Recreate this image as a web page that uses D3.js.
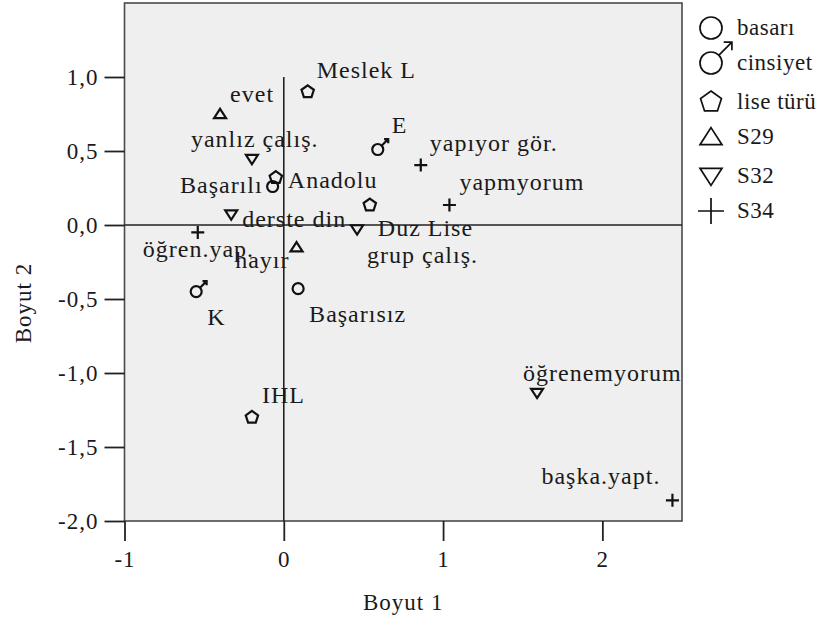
<!DOCTYPE html>
<html>
<head>
<meta charset="utf-8">
<script src="https://cdn.jsdelivr.net/npm/d3@7"></script>
<style>
  body { margin: 0; background: #fff; }
  text { font-family: "Liberation Serif", "Times New Roman", serif; fill: #1a1a1a; }
</style>
</head>
<body>
<svg id="chart" width="825" height="620"></svg>
<script>
// legend / series
const seriesNames = ['basarı', 'cinsiyet', 'lise türü', 'S29', 'S32', 'S34'];
const seriesShapes = ['circle', 'male', 'pentagon', 'triangleUp', 'triangleDown', 'plus'];

// category points (Boyut 1, Boyut 2)
const basariLabels = ['Başarılı', 'Başarısız'];
const basariDim1 = [-0.07, 0.09];
const basariDim2 = [0.26, -0.43];

const cinsiyetLabels = ['E', 'K'];
const cinsiyetDim1 = [0.59, -0.55];
const cinsiyetDim2 = [0.51, -0.45];

const liseLabels = ['Meslek L', 'Anadolu', 'Duz Lise', 'IHL'];
const liseDim1 = [0.15, -0.05, 0.54, -0.20];
const liseDim2 = [0.90, 0.32, 0.135, -1.30];

const s29Labels = ['evet', 'hayır'];
const s29Dim1 = [-0.40, 0.08];
const s29Dim2 = [0.75, -0.15];

const s32Labels = ['yanlız çalış.', 'derste din', 'grup çalış.', 'öğrenemyorum'];
const s32Dim1 = [-0.20, -0.33, 0.46, 1.59];
const s32Dim2 = [0.445, 0.07, -0.03, -1.135];

const s34Labels = ['yapıyor gör.', 'yapmyorum', 'öğren.yap.', 'başka.yapt.'];
const s34Dim1 = [0.86, 1.04, -0.54, 2.44];
const s34Dim2 = [0.405, 0.135, -0.05, -1.86];

const xTicks = [-1, 0, 1, 2];
const yTicks = [-2.0, -1.5, -1.0, -0.5, 0.0, 0.5, 1.0];

// label placement next to each point (pixels from the point, anchor)
const labelOffsets = {
  'Başarılı': [-10, 6, 'end'], 'Başarısız': [11, 33, 'start'],
  'E': [14, -17, 'start'], 'K': [11, 33, 'start'],
  'Meslek L': [9, -14, 'start'], 'Anadolu': [12, 10, 'start'], 'Duz Lise': [8, 31, 'start'], 'IHL': [10, -14, 'start'],
  'evet': [10, -12, 'start'], 'hayır': [-7, 21, 'end'],
  'yanlız çalış.': [-61, -12, 'start'], 'derste din': [11, 12, 'start'], 'grup çalış.': [10, 34, 'start'],
  'öğrenemyorum': [-14, -12, 'start'],
  'yapıyor gör.': [9, -14, 'start'], 'yapmyorum': [10, -15, 'start'], 'öğren.yap.': [-55, 25, 'start'],
  'başka.yapt.': [-131, -16, 'start']
};

const groups = [
  [basariLabels, basariDim1, basariDim2],
  [cinsiyetLabels, cinsiyetDim1, cinsiyetDim2],
  [liseLabels, liseDim1, liseDim2],
  [s29Labels, s29Dim1, s29Dim2],
  [s32Labels, s32Dim1, s32Dim2],
  [s34Labels, s34Dim1, s34Dim2]
];

let points = [];
groups.forEach((g, gi) => {
  g[0].forEach((name, i) => {
    points.push({ name: name, x: g[1][i], y: g[2][i], shape: seriesShapes[gi] });
  });
});

const plot = { left: 124.5, right: 682, top: 3, bottom: 521 };
const svg = d3.select('#chart');

let x = d3.scaleLinear().domain([-1, 2.5]).range([plot.left, plot.right]);
let y = d3.scaleLinear().domain([-2, 1.5]).range([plot.bottom, plot.top]);

function fmt(d) {
  return d3.format('.1f')(d).replace('.', ',').replace('\u2212', '-');
}

// shape path centred on 0,0 ; s = half size
function shapePath(shape, s) {
  let p = d3.path();
  if (shape === 'circle') {
    p.arc(0, 0, s, 0, 2 * Math.PI);
  } else if (shape === 'pentagon') {
    for (let k = 0; k < 5; k++) {
      let a = -Math.PI / 2 + k * 2 * Math.PI / 5;
      k === 0 ? p.moveTo(s * Math.cos(a), s * Math.sin(a)) : p.lineTo(s * Math.cos(a), s * Math.sin(a));
    }
    p.closePath();
  } else if (shape === 'triangleUp') {
    p.moveTo(0, -s * 0.85); p.lineTo(s, s * 0.7); p.lineTo(-s, s * 0.7); p.closePath();
  } else if (shape === 'triangleDown') {
    p.moveTo(0, s * 0.85); p.lineTo(s, -s * 0.7); p.lineTo(-s, -s * 0.7); p.closePath();
  } else if (shape === 'plus') {
    p.moveTo(-s, 0); p.lineTo(s, 0); p.moveTo(0, -s); p.lineTo(0, s);
  } else if (shape === 'male') {
    p.arc(0, 0, s, 0, 2 * Math.PI);
    let a = s * 0.7, tip = s * 1.9, head = s * 0.75;
    p.moveTo(a, -a); p.lineTo(tip, -tip);
    p.moveTo(tip - head, -tip); p.lineTo(tip, -tip); p.lineTo(tip, -tip + head);
  }
  return p.toString();
}

const markerSize = { circle: 5.5, male: 5.5, pentagon: 6.5, triangleUp: 6, triangleDown: 6, plus: 6.5 };

// plot background and frame
svg.append('rect')
  .attr('x', plot.left).attr('y', plot.top)
  .attr('width', plot.right - plot.left).attr('height', plot.bottom - plot.top)
  .attr('fill', '#efefef').attr('stroke', '#4a4a4a').attr('stroke-width', 1.6);

// reference lines
svg.append('line')
  .attr('x1', plot.left).attr('x2', plot.right)
  .attr('y1', y(0)).attr('y2', y(0))
  .attr('stroke', '#222').attr('stroke-width', 1.6);
svg.append('line')
  .attr('x1', x(0)).attr('x2', x(0))
  .attr('y1', y(1)).attr('y2', plot.bottom)
  .attr('stroke', '#222').attr('stroke-width', 1.6);

// axes
let yAxis = d3.axisLeft(y).tickValues(yTicks).tickSize(20).tickPadding(6).tickFormat(fmt);
let xAxis = d3.axisBottom(x).tickValues(xTicks).tickSize(20).tickPadding(10).tickFormat(d => String(d));

let gy = svg.append('g').attr('transform', `translate(${plot.left},0)`).call(yAxis);
let gx = svg.append('g').attr('transform', `translate(0,${plot.bottom})`).call(xAxis);
[gx, gy].forEach(g => {
  g.select('.domain').remove();
  g.selectAll('.tick line').attr('stroke', '#222').attr('stroke-width', 1.8);
  g.selectAll('.tick text')
    .style('font-family', '"Liberation Serif", "Times New Roman", serif')
    .style('font-size', '23px').style('letter-spacing', '1px').attr('fill', '#222');
});

svg.append('text')
  .attr('x', (plot.left + plot.right) / 2).attr('y', 610)
  .attr('text-anchor', 'middle')
  .style('font-size', '23px').style('letter-spacing', '1px')
  .text('Boyut 1');

svg.append('text')
  .attr('transform', 'translate(31,303) rotate(-90)')
  .attr('text-anchor', 'middle')
  .style('font-size', '23px').style('letter-spacing', '1px')
  .text('Boyut 2');

// points
let pt = svg.selectAll('.pt')
  .data(points)
  .enter().append('g')
  .attr('class', 'pt')
  .attr('transform', d => `translate(${x(d.x)},${y(d.y)})`);

pt.append('path')
  .attr('d', d => shapePath(d.shape, markerSize[d.shape]))
  .attr('fill', 'none')
  .attr('stroke', '#111')
  .attr('stroke-width', 2.2);

pt.append('text')
  .attr('x', d => labelOffsets[d.name][0])
  .attr('y', d => labelOffsets[d.name][1])
  .attr('text-anchor', d => labelOffsets[d.name][2])
  .style('font-size', '24px')
  .style('letter-spacing', '1px')
  .text(d => d.name);

// legend
const legendY = [28, 63, 102, 137, 176, 211];
let legend = svg.selectAll('.legend')
  .data(seriesNames)
  .enter().append('g')
  .attr('class', 'legend')
  .attr('transform', (d, i) => `translate(711,${legendY[i]})`);

legend.append('path')
  .attr('d', (d, i) => shapePath(seriesShapes[i], seriesShapes[i] === 'plus' ? 13 : 11))
  .attr('fill', 'none')
  .attr('stroke', '#111')
  .attr('stroke-width', 1.7);

legend.append('text')
  .attr('x', 26)
  .attr('y', 7)
  .style('font-size', '23px')
  .style('letter-spacing', '0.5px')
  .text(d => d);
</script>
</body>
</html>
